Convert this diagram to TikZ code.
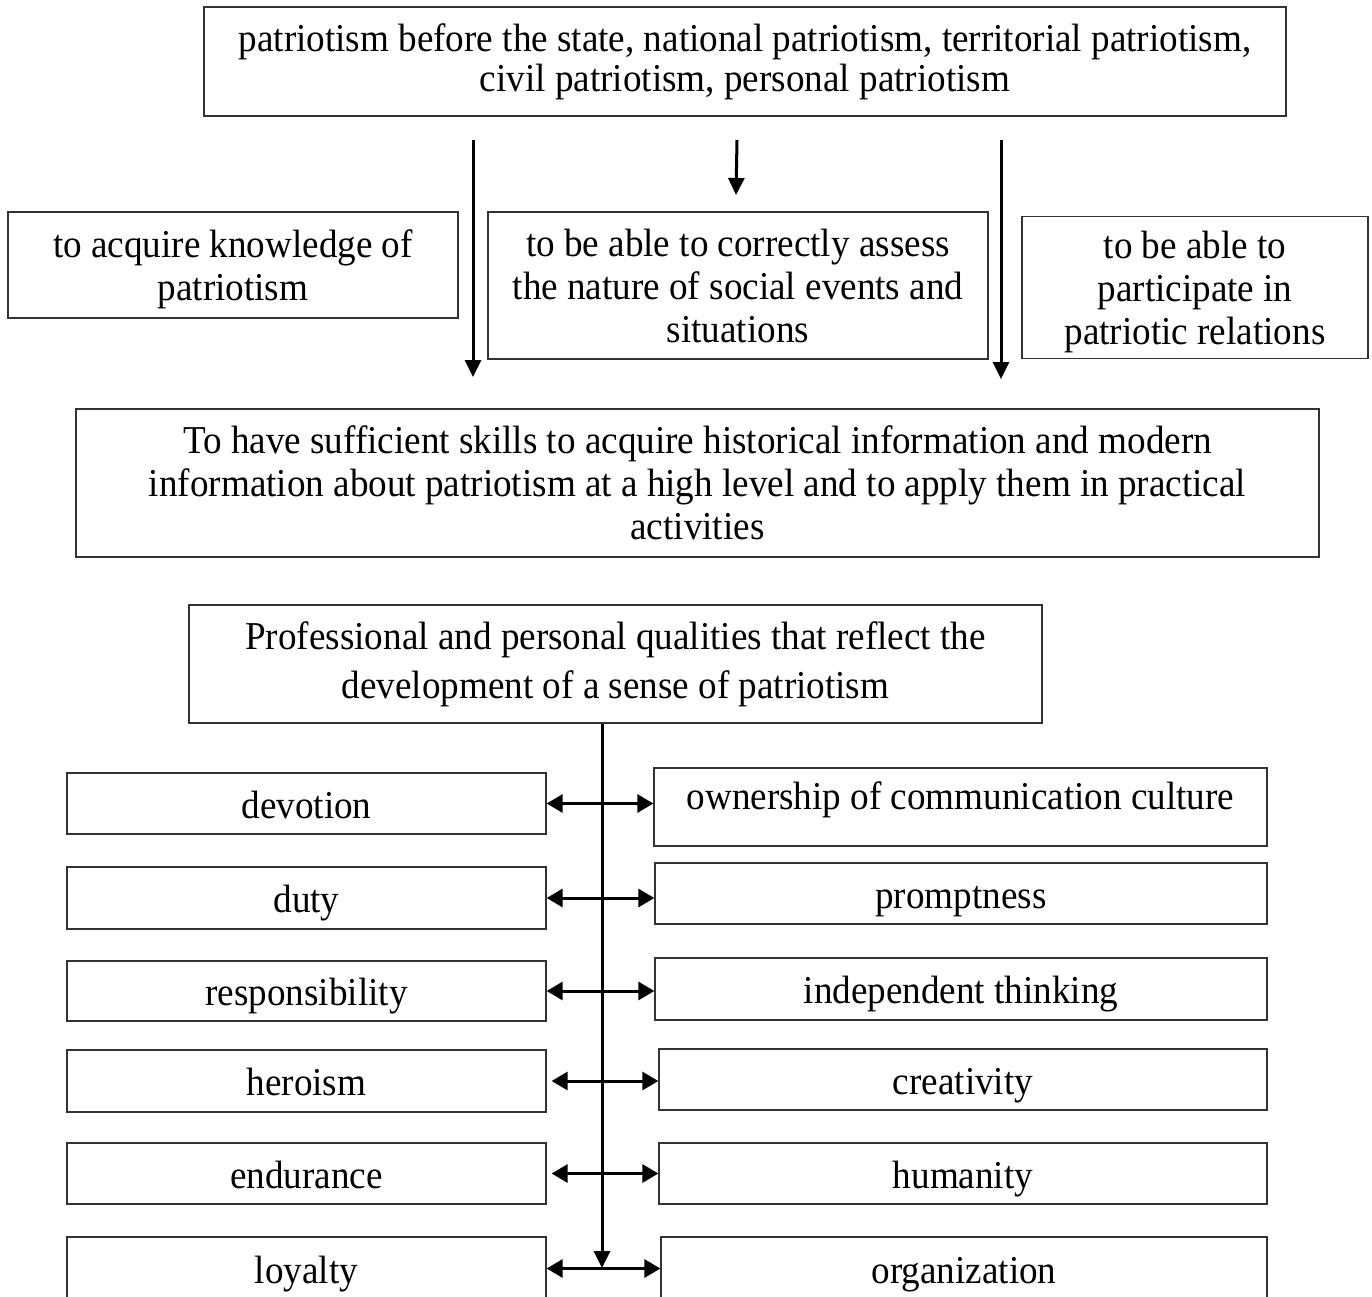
\documentclass[tikz,border=0pt]{standalone}
\usepackage{fontspec}
\setmainfont{Liberation Serif}[FakeStretch=0.94]
\usetikzlibrary{arrows.meta}
\begin{document}
\begin{tikzpicture}[x=1pt,y=-1pt,
  box/.style={draw=black!80, line width=1.3pt, inner sep=0pt, align=center,
    font=\fontsize{39.5pt}{43pt}\selectfont},
  one/.style={text height=30pt, text depth=1pt},
  arr/.style={line width=3pt, -{Triangle[length=17pt,width=16pt]}},
  darr/.style={line width=3pt, {Triangle[length=16pt,width=18pt]}-{Triangle[length=16pt,width=18pt]}}]
\useasboundingbox (0,0) rectangle (1372,1297);
\clip (0,0) rectangle (1372,1297);

% top level
\node[box, minimum width=1082pt, minimum height=109pt, text depth=8pt,
  font=\fontsize{39.5pt}{40pt}\selectfont] (top) at (745,61.5)
  {patriotism before the state, national patriotism, territorial patriotism,\\civil patriotism, personal patriotism};

\node[box, minimum width=450pt, minimum height=106pt, text depth=0pt] (knw) at (233,265)
  {to acquire knowledge of\\patriotism};
\node[box, minimum width=500pt, minimum height=147pt] (ass) at (738,285.5)
  {to be able to correctly assess\\the nature of social events and\\situations};
\node[box, minimum width=346pt, minimum height=142pt, text depth=-5pt] (par) at (1195,287.5)
  {to be able to\\participate in\\patriotic relations};

\node[box, minimum width=1243pt, minimum height=148pt] (skl) at (697.5,483)
  {To have sufficient skills to acquire historical information and modern\\information about patriotism at a high level and to apply them in practical\\activities};

\node[box, minimum width=853pt, minimum height=118pt,
  font=\fontsize{39.5pt}{49pt}\selectfont] (pq) at (615.5,664)
  {Professional and personal qualities that reflect the\\development of a sense of patriotism};

% arrows from the top box
\coordinate (s1) at (473,140); \coordinate (e1) at (473,377);
\coordinate (s2) at (737,140); \coordinate (e2) at (736,195);
\coordinate (s3) at (1001,140); \coordinate (e3) at (1001,379);
\draw[arr] (s1) -- (e1);
\draw[arr] (s2) -- (e2);
\draw[arr] (s3) -- (e3);

% left column
\node[box, one, minimum width=479pt, minimum height=61pt] (dev) at (306.5,803.5) {devotion};
\node[box, one, minimum width=479pt, minimum height=62pt] (dut) at (306.5,898) {duty};
\node[box, one, minimum width=479pt, minimum height=60pt] (res) at (306.5,991) {responsibility};
\node[box, one, minimum width=479pt, minimum height=62pt] (her) at (306.5,1081) {heroism};
\node[box, one, minimum width=479pt, minimum height=61pt] (end) at (306.5,1173.5) {endurance};
\node[box, one, minimum width=479pt, minimum height=63pt] (loy) at (306.5,1268.5) {loyalty};

% right column
\node[box, text height=17pt, text depth=13pt, minimum width=613pt, minimum height=78pt] (own) at (960.5,807) {ownership of communication culture};
\node[box, one, minimum width=612pt, minimum height=61pt] (pro) at (961,893.5) {promptness};
\node[box, one, minimum width=612pt, minimum height=62pt] (ind) at (961,989) {independent thinking};
\node[box, one, minimum width=608pt, minimum height=61pt] (cre) at (963,1079.5) {creativity};
\node[box, one, minimum width=608pt, minimum height=61pt] (hum) at (963,1173.5) {humanity};
\node[box, one, minimum width=606pt, minimum height=63pt] (org) at (964,1268.5) {organization};

% trunk
\coordinate (tr) at (602,1268);
\draw[arr] (pq.south -| tr) -- (tr);

% double arrows
\draw[darr] (dev.east) -- (dev.east -| own.west);
\draw[darr] (dut.east) -- (dut.east -| pro.west);
\draw[darr] (res.east) -- (res.east -| ind.west);
\draw[darr, shorten <=5pt] (her.east) -- (her.east -| cre.west);
\draw[darr, shorten <=5pt] (end.east) -- (end.east -| hum.west);
\draw[darr] (loy.east) -- (loy.east -| org.west);
\end{tikzpicture}
\end{document}
